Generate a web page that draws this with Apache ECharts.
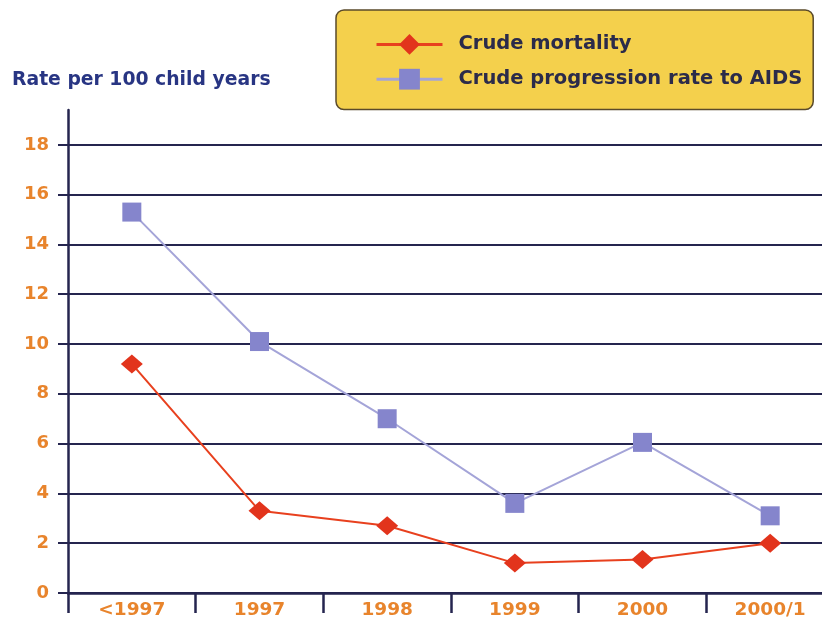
<!DOCTYPE html>
<html><head><meta charset="utf-8">
<script src="https://cdn.jsdelivr.net/npm/echarts@6/dist/echarts.min.js"></script>
<style>html,body{margin:0;padding:0;background:#fff}#c{width:822px;height:619px}</style>
</head><body><div id="c"></div>
<script>
const categories = ['<1997', '1997', '1998', '1999', '2000', '2000/1'];
const mortality = [9.2, 3.3, 2.7, 1.2, 1.35, 2.0];
const aids = [15.3, 10.1, 7.0, 3.6, 6.05, 3.1];
const yTicks = [0, 2, 4, 6, 8, 10, 12, 14, 16, 18];
const yTitle = 'Rate per 100 child years';
const seriesNames = ['Crude mortality', 'Crude progression rate to AIDS'];

const navy = '#25254f';
const orange = '#e8842c';
const FONT = '"DejaVu Sans", Verdana, sans-serif';

const chart = echarts.init(document.getElementById('c'));
chart.setOption({
  animation: false,
  backgroundColor: '#fff',
  title: {
    text: yTitle, left: 7, top: 66,
    textStyle: { fontFamily: FONT, fontWeight: 'bold', fontSize: 18.8, color: '#283583' }
  },
  legend: {
    orient: 'vertical', left: 336, top: 10,
    backgroundColor: '#f4d04c', borderColor: '#5a4a2a', borderWidth: 1.5, borderRadius: 8,
    padding: [24, 11, 20, 39], itemGap: 14,
    itemWidth: 66, itemHeight: 26,
    lineStyle: { width: 3 },
    textStyle: { fontFamily: FONT, fontWeight: 'bold', fontSize: 19.5, color: '#2b2b4a', padding: [0, 0, 0, 11] },
    data: seriesNames
  },
  grid: { left: 68, width: 766, top: 110, bottom: 26, outerBoundsMode: 'none', containLabel: false },
  xAxis: {
    type: 'category', data: categories, boundaryGap: true,
    axisLine: { lineStyle: { color: navy, width: 2.5 } },
    axisTick: { show: true, inside: false, length: 20, lineStyle: { color: navy, width: 2.5 } },
    axisLabel: { margin: 8, fontFamily: FONT, fontWeight: 'bold', fontSize: 18.5, color: orange }
  },
  yAxis: {
    type: 'value', min: 0, max: 19.4, interval: 2,
    axisLine: { show: true, lineStyle: { color: navy, width: 2.5 } },
    axisTick: { show: true, length: 10, customValues: yTicks, lineStyle: { color: navy, width: 2 } },
    axisLabel: { margin: 19, customValues: yTicks, fontFamily: FONT, fontWeight: 'bold', fontSize: 18, color: orange },
    splitLine: { show: true, lineStyle: { color: navy, width: 2 } }
  },
  series: [
    {
      name: seriesNames[0], type: 'line', data: mortality,
      symbol: 'diamond', symbolSize: [22, 19],
      lineStyle: { color: '#e8401e', width: 2 },
      itemStyle: { color: '#e2341c' },
      z: 3
    },
    {
      name: seriesNames[1], type: 'line', data: aids,
      symbol: 'rect', symbolSize: 19,
      lineStyle: { color: '#a4a4d8', width: 2 },
      itemStyle: { color: '#8585cc' },
      z: 2
    }
  ]
});
</script>
</body></html>
